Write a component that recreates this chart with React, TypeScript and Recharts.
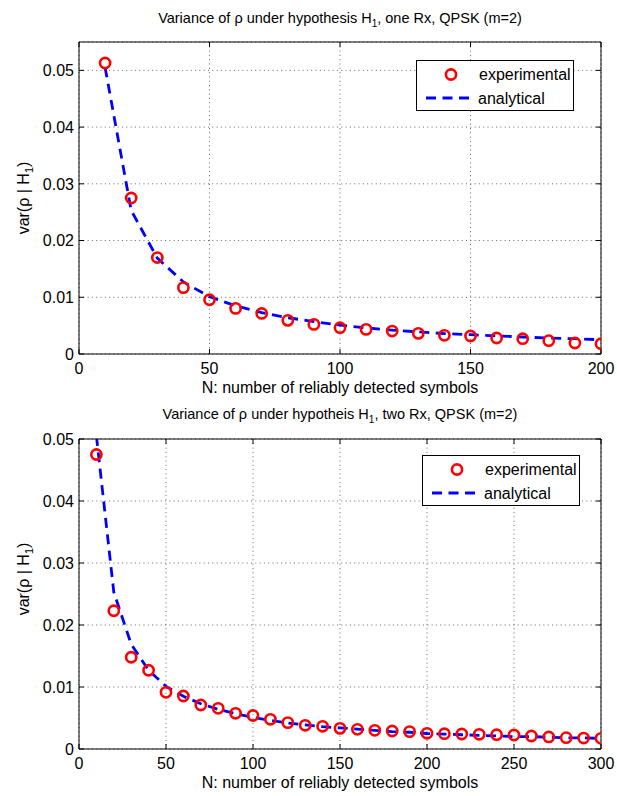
import React from 'react';
import { ComposedChart, Line, XAxis, YAxis, CartesianGrid, Legend, Label } from 'recharts';

const FONT = '"Liberation Sans", Arial, Helvetica, sans-serif';

// ---------- top chart data ----------
const topN = [10, 20, 30, 40, 50, 60, 70, 80, 90, 100, 110, 120, 130, 140, 150, 160, 170, 180, 190, 200];
const topExperimental = [0.0513, 0.0275, 0.0170, 0.0117, 0.00956, 0.00804, 0.00715, 0.00593, 0.00522, 0.00464, 0.00434, 0.00405, 0.00364, 0.00329, 0.00317, 0.00282, 0.0027, 0.00235, 0.00194, 0.00182];
const topAnalytical = [0.0505, 0.0253, 0.0169, 0.0127, 0.0101, 0.0085, 0.0073, 0.0064, 0.0057, 0.0051, 0.0046, 0.0042, 0.0039, 0.0036, 0.0034, 0.0032, 0.0030, 0.0028, 0.0027, 0.0025];
const topXTicks = [0, 50, 100, 150, 200];
const topYTicks = [0, 0.01, 0.02, 0.03, 0.04, 0.05];

// ---------- bottom chart data ----------
const botN = [10, 20, 30, 40, 50, 60, 70, 80, 90, 100, 110, 120, 130, 140, 150, 160, 170, 180, 190, 200, 210, 220, 230, 240, 250, 260, 270, 280, 290, 300];
const botExperimental = [0.0475, 0.0223, 0.0148, 0.0127, 0.00914, 0.00855, 0.0071, 0.00656, 0.00576, 0.0054, 0.00479, 0.00425, 0.00382, 0.00366, 0.00333, 0.00317, 0.00301, 0.0029, 0.0028, 0.00253, 0.00247, 0.00242, 0.00237, 0.00231, 0.00226, 0.0021, 0.00194, 0.00183, 0.00177, 0.00172];
const botAnalytical = [0.0505, 0.0253, 0.0169, 0.0127, 0.0101, 0.0085, 0.0073, 0.0064, 0.0057, 0.0051, 0.0046, 0.0042, 0.0039, 0.0036, 0.0034, 0.0032, 0.0030, 0.0028, 0.0027, 0.0025, 0.0024, 0.0023, 0.0022, 0.0021, 0.0020, 0.0020, 0.0019, 0.0018, 0.0018, 0.0017];
const botXTicks = [0, 50, 100, 150, 200, 250, 300];
const botYTicks = [0, 0.01, 0.02, 0.03, 0.04, 0.05];

const buildRows = (n: number[], e: number[], a: number[]) =>
  n.map((v, i) => ({ n: v, exp: e[i], ana: a[i] }));

const TICK_LEN = 5;
const FS = 16;
const TITLE_FS = 14.5;
const MARKER_R = 5.1;

const BottomTick = (props: any) => {
  const { x, y, payload } = props;
  return (
    <g>
      <line x1={x} y1={y} x2={x} y2={y - TICK_LEN} stroke="#000" strokeWidth={1} />
      <text x={x} y={y + 20} textAnchor="middle" fontSize={FS} fontFamily={FONT} fill="#000">
        {String(payload.value)}
      </text>
    </g>
  );
};

const TopTick = (props: any) => {
  const { x, y } = props;
  return <line x1={x} y1={y} x2={x} y2={y + TICK_LEN} stroke="#000" strokeWidth={1} />;
};

const LeftTick = (props: any) => {
  const { x, y, payload } = props;
  return (
    <g>
      <line x1={x} y1={y} x2={x + TICK_LEN} y2={y} stroke="#000" strokeWidth={1} />
      <text x={x - 5} y={y} dy="0.36em" textAnchor="end" fontSize={FS} fontFamily={FONT} fill="#000">
        {String(payload.value)}
      </text>
    </g>
  );
};

const RightTick = (props: any) => {
  const { x, y } = props;
  return <line x1={x} y1={y} x2={x - TICK_LEN} y2={y} stroke="#000" strokeWidth={1} />;
};

const LegendBox = () => (
  <div
    style={{
      width: 158,
      height: 51,
      border: '1px solid #000',
      boxSizing: 'border-box',
      background: '#fff',
      position: 'relative',
    }}
  >
    <svg width={158} height={51} style={{ position: 'absolute', left: -1, top: -1, overflow: 'visible' }}>
      <circle cx={35} cy={14.5} r={MARKER_R} fill="none" stroke="#ff0000" strokeWidth={2.6} />
      <line x1={10} y1={38} x2={58} y2={38} stroke="#0000ff" strokeWidth={2.8} strokeDasharray="10 6.5" />
      <text x={63} y={20} fontSize={FS} fontFamily={FONT} fill="#000">experimental</text>
      <text x={62} y={43.5} fontSize={FS} fontFamily={FONT} fill="#000">analytical</text>
    </svg>
  </div>
);

type ChartProps = {
  rows: { n: number; exp: number; ana: number }[];
  xMax: number;
  yMax: number;
  xTicks: number[];
  yTicks: number[];
  height: number;
  plotTop: number;
  plotBottom: number;
  titleRest: string;
  titleBaseline: number;
  yLabelCenter: number;
  legendLeft: number;
  legendTop: number;
};

const PLOT_LEFT = 79;
const PLOT_RIGHT = 601;
const WIDTH = 617;

const VarianceChart = (p: ChartProps) => {
  const cx = (PLOT_LEFT + PLOT_RIGHT) / 2;
  const [pre, post] = p.titleRest.split('|');
  return (
    <ComposedChart
      width={WIDTH}
      height={p.height}
      data={p.rows}
      margin={{ top: p.plotTop - 1, right: WIDTH - PLOT_RIGHT - 1, bottom: 0, left: 0 }}
    >
      <CartesianGrid stroke="#6a6a6a" strokeDasharray="1 3.3" strokeWidth={1} />
      <XAxis
        dataKey="n"
        type="number"
        domain={[0, p.xMax]}
        ticks={p.xTicks}
        interval={0}
        height={p.height - p.plotBottom}
        tickSize={0}
        tickMargin={0}
        tickLine={false}
        axisLine={{ stroke: '#000', strokeWidth: 1 }}
        tick={<BottomTick />}
        allowDataOverflow
      >
        <Label
          content={() => (
            <text x={cx} y={p.plotBottom + 39} textAnchor="middle" fontSize={FS} fontFamily={FONT} fill="#000">
              N: number of reliably detected symbols
            </text>
          )}
        />
      </XAxis>
      <XAxis
        xAxisId="top"
        orientation="top"
        dataKey="n"
        type="number"
        domain={[0, p.xMax]}
        ticks={p.xTicks}
        interval={0}
        height={1}
        tickSize={0}
        tickMargin={0}
        tickLine={false}
        axisLine={{ stroke: '#000', strokeWidth: 1 }}
        tick={<TopTick />}
        allowDataOverflow
      >
        <Label
          content={() => (
            <text x={cx} y={p.titleBaseline} textAnchor="middle" fontSize={TITLE_FS} fontFamily={FONT} fill="#000">
              {`Variance of ρ under ${pre}H`}
              <tspan dy={4} fontSize={10}>1</tspan>
              <tspan dy={-4}>{post}</tspan>
            </text>
          )}
        />
      </XAxis>
      <YAxis
        type="number"
        domain={[0, p.yMax]}
        ticks={p.yTicks}
        interval={0}
        width={PLOT_LEFT}
        tickSize={0}
        tickMargin={0}
        tickLine={false}
        axisLine={{ stroke: '#000', strokeWidth: 1 }}
        tick={<LeftTick />}
        allowDataOverflow
      >
        <Label
          content={() => (
            <text
              x={29}
              y={p.yLabelCenter}
              transform={`rotate(-90, 29, ${p.yLabelCenter})`}
              textAnchor="middle"
              fontSize={FS}
              fontFamily={FONT}
              fill="#000"
            >
              var(ρ | H
              <tspan dy={4} fontSize={11}>1</tspan>
              <tspan dy={-4}>)</tspan>
            </text>
          )}
        />
      </YAxis>
      <YAxis
        yAxisId="right"
        orientation="right"
        type="number"
        domain={[0, p.yMax]}
        ticks={p.yTicks}
        interval={0}
        width={1}
        tickSize={0}
        tickMargin={0}
        tickLine={false}
        axisLine={{ stroke: '#000', strokeWidth: 1 }}
        tick={<RightTick />}
        allowDataOverflow
      />
      {/* invisible series bound to the top/right frame axes */}
      <Line
        xAxisId="top"
        yAxisId="right"
        dataKey="ana"
        stroke="none"
        dot={false}
        activeDot={false}
        legendType="none"
        isAnimationActive={false}
      />
      <Line
        dataKey="exp"
        stroke="none"
        isAnimationActive={false}
        activeDot={false}
        dot={{ r: MARKER_R, stroke: '#ff0000', strokeWidth: 2.6, fill: 'none' }}
      />
      <Line
        dataKey="ana"
        type="linear"
        stroke="#0000ff"
        strokeWidth={2.8}
        strokeDasharray="10 6.5"
        dot={false}
        activeDot={false}
        isAnimationActive={false}
      />
      <Legend
        layout="horizontal"
        align="center"
        verticalAlign="middle"
        content={() => <LegendBox />}
        wrapperStyle={{ left: p.legendLeft, top: p.legendTop, width: 158, height: 51, margin: 0 }}
      />
    </ComposedChart>
  );
};

export default function App() {
  return (
    <div style={{ position: 'absolute', left: 0, top: 0, width: 617, height: 796, background: '#fff' }}>
      <div style={{ position: 'absolute', left: 0, top: 0 }}>
        <VarianceChart
          rows={buildRows(topN, topExperimental, topAnalytical)}
          xMax={200}
          yMax={0.055}
          xTicks={topXTicks}
          yTicks={topYTicks}
          height={400}
          plotTop={42}
          plotBottom={354}
          titleRest="hypothesis |, one Rx, QPSK (m=2)"
          titleBaseline={23}
          yLabelCenter={198}
          legendLeft={416}
          legendTop={60}
        />
      </div>
      <div style={{ position: 'absolute', left: 0, top: 400 }}>
        <VarianceChart
          rows={buildRows(botN, botExperimental, botAnalytical)}
          xMax={300}
          yMax={0.05}
          xTicks={botXTicks}
          yTicks={botYTicks}
          height={396}
          plotTop={39}
          plotBottom={349}
          titleRest="hypotheis |, two Rx, QPSK (m=2)"
          titleBaseline={19}
          yLabelCenter={179}
          legendLeft={422}
          legendTop={55}
        />
      </div>
    </div>
  );
}
